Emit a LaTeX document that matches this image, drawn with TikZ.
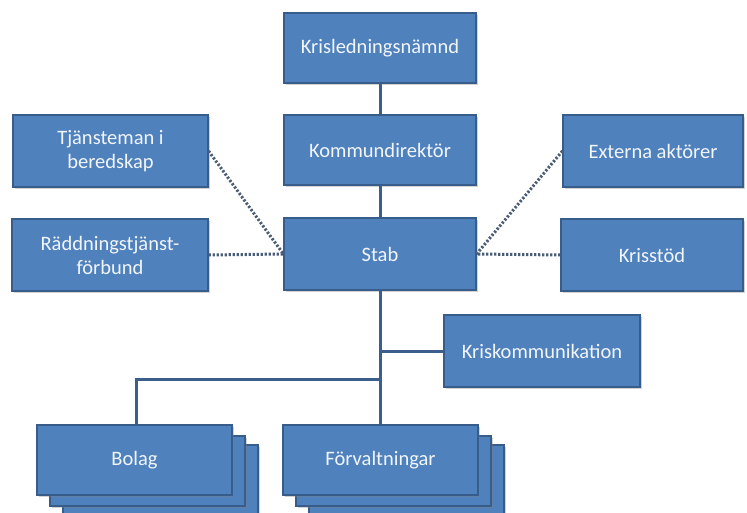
\documentclass[tikz,border=0pt]{standalone}
\usepackage{fontspec}
\setmainfont{Carlito}
\usetikzlibrary{shadows}
\definecolor{boxfill}{HTML}{4F81BD}
\definecolor{boxline}{HTML}{385D8A}
\definecolor{conn}{HTML}{3B5E8C}
\definecolor{dotc}{HTML}{4A5D75}
\definecolor{txt}{HTML}{F2F5FA}
\tikzset{
  orgbox/.style={draw=boxline, line width=1.2pt, fill=boxfill, text=txt,
    font=\fontsize{20.5}{24}\selectfont, align=center, inner sep=0pt,
    drop shadow={shadow xshift=2pt, shadow yshift=-2pt, opacity=0.35}},
  solidlink/.style={draw=conn, line width=3pt},
  dotlink/.style={draw=dotc, line width=3pt, dash pattern=on 2.2pt off 1.8pt}
}
\begin{document}
\begin{tikzpicture}[x=1pt,y=-1pt]
\useasboundingbox[fill=white] (0,0) rectangle (747,513);
\node[orgbox, minimum width=192pt, minimum height=70pt] (kl) at (380,48) {Krisledningsnämnd};
\node[orgbox, minimum width=192pt, minimum height=70pt] (kd) at (380,150) {Kommundirektör};
\node[orgbox, minimum width=192pt, minimum height=72pt] (stab) at (380,254) {Stab};
\node[orgbox, minimum width=195pt, minimum height=72pt] (tj) at (110.5,151) {Tjänsteman i\\beredskap};
\node[orgbox, minimum width=196pt, minimum height=72pt] (rd) at (110,255) {Räddningstjänst-\\förbund};
\node[orgbox, minimum width=180pt, minimum height=72pt] (ex) at (653,151) {Externa aktörer};
\node[orgbox, minimum width=182pt, minimum height=72pt] (ks) at (652,255) {Krisstöd};
\node[orgbox, minimum width=196pt, minimum height=72pt] (kk) at (542,351) {Kriskommunikation};
% stacked boxes
\node[orgbox, minimum width=195pt, minimum height=70pt] (bo3) at (160.5,480) {};
\node[orgbox, minimum width=195pt, minimum height=70pt] (bo2) at (147.5,471) {};
\node[orgbox, minimum width=195pt, minimum height=70pt] (fo3) at (406.5,480) {};
\node[orgbox, minimum width=195pt, minimum height=70pt] (fo2) at (393.5,471) {};
\coordinate (split) at (380,379);
\draw[solidlink] (kl.south) -- (kd.north);
\draw[solidlink] (kd.south) -- (stab.north);
\draw[solidlink] (stab.south) -- (380,425);
\draw[solidlink] (kk.west) -- (kk.west -| stab.south);
\draw[solidlink] (split) -- (136,379) -- (136,425);
\node[orgbox, minimum width=195pt, minimum height=70pt] (bo) at (134.5,460) {Bolag};
\node[orgbox, minimum width=195pt, minimum height=70pt] (fo) at (380.5,460) {Förvaltningar};
\draw[dotlink] (tj.east) -- (stab.west);
\draw[dotlink] (rd.east) -- (stab.west);
\draw[dotlink] (ex.west) -- (stab.east);
\draw[dotlink] (ks.west) -- (stab.east);
\end{tikzpicture}
\end{document}
